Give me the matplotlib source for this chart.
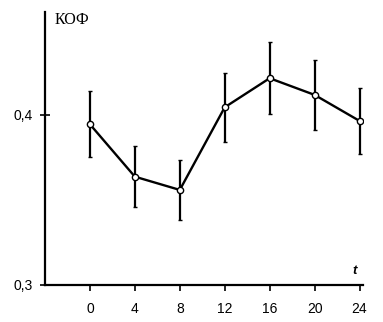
import matplotlib.pyplot as plt

plt.rcParams['font.family'] = ['Liberation Sans', 'DejaVu Sans']

t = [0, 4, 8, 12, 16, 20, 24]
kof = [0.3945, 0.3637, 0.3559, 0.4045, 0.4216, 0.4118, 0.3965]
err = [0.0195, 0.018, 0.0177, 0.0203, 0.0213, 0.0208, 0.0196]
yticks = [0.3, 0.4]
ylabels = ['0,3', '0,4']

fig = plt.figure(figsize=(3.83, 3.22), dpi=100)
ax = fig.add_axes([0.1175, 0.115, 0.83, 0.848])

ax.errorbar(t, kof, yerr=err, color='black', lw=1.7, elinewidth=1.6,
            capsize=1.5, capthick=1.2, marker='o', ms=4.5,
            mfc='white', mec='black', mew=1.0, zorder=3)

ax.set_xlim(-4, 24.3)
ax.set_ylim(0.3, 0.4606)
ax.set_xticks(t)
ax.set_xticklabels([str(v) for v in t], fontsize=10)
ax.set_yticks(yticks)
ax.set_yticklabels(ylabels, fontsize=10)
ax.tick_params(axis='x', direction='out', length=4, width=1.2, pad=8)
ax.tick_params(axis='y', direction='inout', length=7.5, width=1.2, pad=5)

for s in ['top', 'right']:
    ax.spines[s].set_visible(False)
for s in ['left', 'bottom']:
    ax.spines[s].set_linewidth(1.6)

ax.text(0.03, 1.0, 'КОФ', transform=ax.transAxes, fontsize=11.5,
        family=['Liberation Serif', 'DejaVu Serif'], va='top')
ax.text(0.974, 0.03, 't', transform=ax.transAxes, fontsize=9.5,
        style='italic', weight='bold', ha='center', va='bottom')

fig.savefig('out.png', dpi=100)
